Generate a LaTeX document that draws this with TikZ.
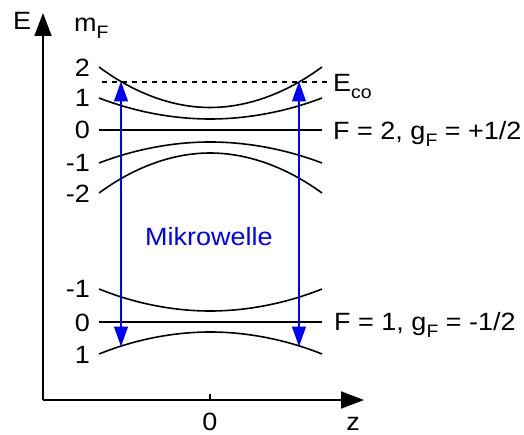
\documentclass[tikz,border=0pt]{standalone}
\usepackage{fontspec}
\usepackage{graphicx}
\setmainfont{Liberation Sans}
\usetikzlibrary{arrows.meta}
\definecolor{mwblue}{RGB}{0,0,255}
\newcommand\mysub[1]{\raisebox{-7pt}{\fontsize{18}{18}\selectfont #1}}
\newcommand\wide[1]{\scalebox{1.08}[1]{#1}}
\begin{document}
\begin{tikzpicture}[x=1pt,y=-1pt,
  lbl/.style={inner sep=0pt, font=\fontsize{25}{28}\selectfont},
  curve/.style={line width=1.6pt},
  axis/.style={line width=1.8pt, -{Triangle[length=23pt,width=17pt]}},
  mw/.style={draw=mwblue, line width=1.1pt, {Triangle[length=20pt,width=14pt,fill=mwblue]}-{Triangle[length=20pt,width=14pt,fill=mwblue]}}]
\useasboundingbox (0,0) rectangle (524,435);
% axes
\coordinate (O) at (43,400);
\coordinate (Ytip) at (43,13);
\coordinate (Xtip) at (364,400);
\draw[axis] (O) -- (Ytip);
\draw[axis] (O) -- (Xtip);
\coordinate (tick0) at (210,400);
\coordinate (tick1) at (210,394);
\draw[line width=1.2pt] (tick0) -- (tick1);
\node[lbl, anchor=base west] (E) at (13,30) {\wide{E}};
\node[lbl, anchor=base west] (mF) at (74,32) {\wide{m\mysub{F}}};
\node[lbl, anchor=base] (zero) at (210,430) {\wide{0}};
\node[lbl, anchor=base] (z) at (353,430) {\wide{z}};
% F=2 levels
\draw[curve] (99,67) parabola bend (210,107.5) (322,67);
\draw[curve] (99,98) parabola bend (210,119) (322,98);
\draw[curve] (99,130) -- (322,130);
\draw[curve] (99,163) parabola bend (210,142) (322,163);
\draw[curve] (99,193) parabola bend (210,153) (322,193);
% F=1 levels
\draw[curve] (99,289) parabola bend (210,311) (322,289);
\draw[curve] (99,322) -- (322,322);
\draw[curve] (99,354) parabola bend (210,332) (322,354);
% dashed cutoff
\coordinate (dL) at (102,82);
\coordinate (dR) at (328,82);
\draw[line width=1.2pt, dash pattern=on 5pt off 5pt] (dL) -- (dR);
% level labels
\node[lbl, anchor=base east] (u2) at (90,77) {\wide{2}};
\node[lbl, anchor=base east] (u1) at (90,107) {\wide{1}};
\node[lbl, anchor=base east] (u0) at (90,139) {\wide{0}};
\node[lbl, anchor=base east] (um1) at (90,172) {\wide{-1}};
\node[lbl, anchor=base east] (um2) at (90,203) {\wide{-2}};
\node[lbl, anchor=base east] (lm1) at (90,298) {\wide{-1}};
\node[lbl, anchor=base east] (l0) at (90,331) {\wide{0}};
\node[lbl, anchor=base east] (l1) at (90,363) {\wide{1}};
\node[lbl, anchor=base west] (Eco) at (333,92) {\wide{E\mysub{co}}};
\node[lbl, anchor=base west] (F2) at (333,140) {\wide{F = 2, g\mysub{F} = +1/2}};
\node[lbl, anchor=base west] (F1) at (334,330) {\wide{F = 1, g\mysub{F} = -1/2}};
% microwave
\coordinate (aLt) at (121,81.5);
\coordinate (aLb) at (121,346.5);
\coordinate (aRt) at (299,81.5);
\coordinate (aRb) at (299,346.5);
\draw[mw] (aLt) -- (aLb);
\draw[mw] (aRt) -- (aRb);
\node[lbl, anchor=base west, text=mwblue] (mikro) at (145,246) {\wide{Mikrowelle}};
\end{tikzpicture}
\end{document}
